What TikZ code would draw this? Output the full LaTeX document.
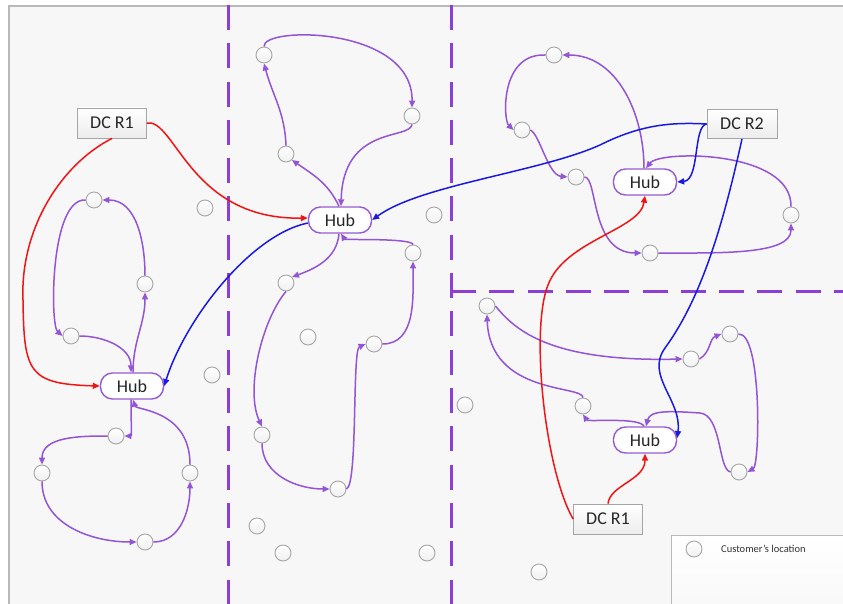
\documentclass[tikz,border=0pt]{standalone}
\usepackage{fontspec}
\setmainfont{Carlito}
\usetikzlibrary{arrows.meta}
\definecolor{panel}{RGB}{247,247,247}
\definecolor{divider}{RGB}{140,62,214}
\definecolor{route}{RGB}{148,84,214}
\definecolor{hubline}{RGB}{150,90,210}
\definecolor{redline}{RGB}{240,20,20}
\definecolor{blueline}{RGB}{25,25,225}
\begin{document}
\begin{tikzpicture}[x=1pt,y=-1pt,
  cust/.style={circle, draw=gray!70, line width=0.9pt, top color=white, bottom color=gray!12, minimum size=16pt, inner sep=0pt},
  hub/.style={draw=hubline, line width=1.4pt, fill=white, rounded corners=12pt, minimum width=63pt, minimum height=26pt, inner sep=0pt, text=black!85, font=\fontsize{18}{20}\selectfont},
  dcbox/.style={draw=gray!70, line width=0.8pt, top color=white, bottom color=gray!15, minimum width=69pt, minimum height=30pt, inner sep=0pt, text=black!85, font=\fontsize{18}{20}\selectfont},
  trip/.style={draw=route, line width=1.5pt, -{Triangle[length=7pt,width=6pt]}},
  redtrip/.style={draw=redline, line width=1.5pt, -{Triangle[length=7pt,width=6pt]}},
  bluetrip/.style={draw=blueline, line width=1.5pt, -{Triangle[length=7pt,width=6pt]}},
  divide/.style={draw=divider, line width=3pt, dash pattern=on 25pt off 13.3pt}
]
\useasboundingbox (0,0) rectangle (843,604);
% background panel
\fill[white] (0,0) rectangle (843,604);
\fill[panel] (9,6) rectangle (843,604);
\draw[gray!55, line width=1.5pt] (9,604) -- (9,6) -- (843,6);

% region dividers
\draw[divide] (228,5) -- (228,604);
\draw[divide] (451,5) -- (451,604);
\draw[divide] (451,291) -- (843,291);

% legend
\draw[gray!55, line width=0.8pt, top color=white, bottom color=gray!6] (671,535) rectangle (860,620);
\node[cust] (key) at (694,549) {};
\node[anchor=west, inner sep=0pt, text=black!80, font=\fontsize{10.5}{12}\selectfont] (keytext) at (721,549) {Customer's location};

% west region
\node[dcbox] (dcA) at (112,123) {DC R1};
\node[hub] (hubA) at (132,386) {Hub};
\node[cust] (a1) at (94,200) {};
\node[cust] (a2) at (145,284) {};
\node[cust] (a3) at (205,208) {};
\node[cust] (a4) at (71,336) {};
\node[cust] (a5) at (212,375) {};
\node[cust] (a6) at (116,436) {};
\node[cust] (a7) at (42,473) {};
\node[cust] (a8) at (190,473) {};
\node[cust] (a9) at (145,542) {};

% central region
\node[hub] (hubB) at (340,220) {Hub};
\node[cust] (b1) at (264,55) {};
\node[cust] (b2) at (412,116) {};
\node[cust] (b3) at (286,154) {};
\node[cust] (b4) at (434,215) {};
\node[cust] (b5) at (413,253) {};
\node[cust] (b6) at (286,283) {};
\node[cust] (b7) at (308,337) {};
\node[cust] (b8) at (374,344) {};
\node[cust] (b9) at (262,435) {};
\node[cust] (b10) at (338,489) {};
\node[cust] (b11) at (257,526) {};
\node[cust] (b12) at (283,553) {};
\node[cust] (b13) at (427,553) {};

% north-east region
\node[dcbox, minimum width=70pt, minimum height=29pt] (dcC) at (742,124) {DC R2};
\node[hub] (hubC) at (645,182) {Hub};
\node[cust] (c1) at (554,55) {};
\node[cust] (c2) at (522,130) {};
\node[cust] (c3) at (576,177) {};
\node[cust] (c4) at (791,215) {};
\node[cust] (c5) at (650,253) {};

% south-east region
\node[hub] (hubD) at (645,440) {Hub};
\node[dcbox] (dcD) at (608,519) {DC R1};
\node[cust] (e1) at (487,306) {};
\node[cust] (e2) at (691,359) {};
\node[cust] (e3) at (730,334) {};
\node[cust] (e4) at (583,406) {};
\node[cust] (e5) at (465,405) {};
\node[cust] (e6) at (739,472) {};
\node[cust] (e7) at (539,572) {};

% west tours
\draw[trip] ([xshift=1pt]hubA.north) to[out=90,in=-90] (a2.south);
\draw[trip] (a2.north) to[out=90,in=0] (a1.east);
\draw[trip] (a1.west) .. controls (50,198) and (50,325) .. (a4.west);
\draw[trip] (a4.east) to[out=0,in=90] ([xshift=-1pt]hubA.north);
\draw[trip] ([xshift=-1pt]hubA.south) .. controls (131,425) and (132,436) .. (a6.east);
\draw[trip] (a6.west) to[out=180,in=90] (a7.north);
\draw[trip] (a7.south) to[out=-90,in=180] (a9.west);
\draw[trip] (a9.east) to[out=0,in=-90] (a8.south);
\draw[trip] (a8.north) .. controls (190,410) and (136,410) .. ([xshift=1pt]hubA.south);

% central tours
\draw[trip] ([xshift=-1pt]hubB.north) to[out=115,in=-35] (b3.south east);
\draw[trip] (b3.north) to[out=92,in=-75] (b1.south);
\draw[trip] (b1.north) .. controls (262,26) and (413,26) .. (b2.north);
\draw[trip] (b2.south) .. controls (410,140) and (343,125) .. ([xshift=1pt]hubB.north);
\draw[trip] ([xshift=-1pt]hubB.south) to[out=-95,in=20] (b6.north east);
\draw[trip] (b6.south) .. controls (262,320) and (245,390) .. (b9.north);
\draw[trip] (b9.south) to[out=-90,in=180] (b10.west);
\draw[trip] (b10.east) .. controls (358,485) and (352,350) .. (b8.west);
\draw[trip] (b8.east) to[out=0,in=-90] (b5.south);
\draw[trip] (b5.north) .. controls (412,238) and (345,240) .. ([xshift=1pt]hubB.south);

% north-east tours
\draw[trip] ([xshift=-1pt]hubC.north) to[out=90,in=0] (c1.east);
\draw[trip] (c1.west) .. controls (500,53) and (503,120) .. (c2.west);
\draw[trip] (c2.east) .. controls (540,135) and (548,175) .. (c3.west);
\draw[trip] (c3.east) .. controls (598,177) and (590,253) .. (c5.west);
\draw[trip] (c5.east) .. controls (720,253) and (791,255) .. (c4.south);
\draw[trip] (c4.north) .. controls (792,150) and (660,150) .. ([xshift=1pt]hubC.north);

% south-east tours
\draw[trip] ([xshift=-1pt]hubD.north) .. controls (640,417) and (588,422) .. (e4.south);
\draw[trip] (e4.north) .. controls (583,385) and (490,395) .. (e1.south);
\draw[trip] (e1.east) .. controls (515,330) and (550,362) .. (e2.west);
\draw[trip] (e2.east) to[out=30,in=200] (e3.west);
\draw[trip] (e3.east) .. controls (762,332) and (760,465) .. (e6.east);
\draw[trip] (e6.west) .. controls (718,470) and (722,415) .. (700,413) .. controls (670,411) and (650,410) .. ([xshift=1pt]hubD.north);

% supply from DC R1
\draw[redtrip] (dcA.south) .. controls (60,165) and (20,230) .. (23,300) .. controls (24,372) and (28,384) .. (hubA.west);
\draw[redtrip] (dcA.east) .. controls (175,118) and (190,220) .. ([yshift=2pt]hubB.west);
\draw[redtrip] (dcD.west) .. controls (545,470) and (530,330) .. (548,285) .. controls (565,240) and (640,230) .. (hubC.south);
\draw[redtrip] (dcD.north) .. controls (610,485) and (645,480) .. (hubD.south);

% supply from DC R2 and hub to hub
\draw[bluetrip] (dcC.west) .. controls (670,122) and (640,125) .. (600,145) .. controls (540,172) and (420,185) .. (hubB.east);
\draw[bluetrip] (dcC.west) .. controls (693,126) and (700,180) .. (hubC.east);
\draw[bluetrip] (dcC.south) .. controls (722,230) and (700,300) .. (665,348) .. controls (645,376) and (682,400) .. ([yshift=2pt]hubD.east);
\draw[bluetrip] ([yshift=-3pt]hubB.west) .. controls (250,235) and (185,320) .. (hubA.east);
\end{tikzpicture}
\end{document}
